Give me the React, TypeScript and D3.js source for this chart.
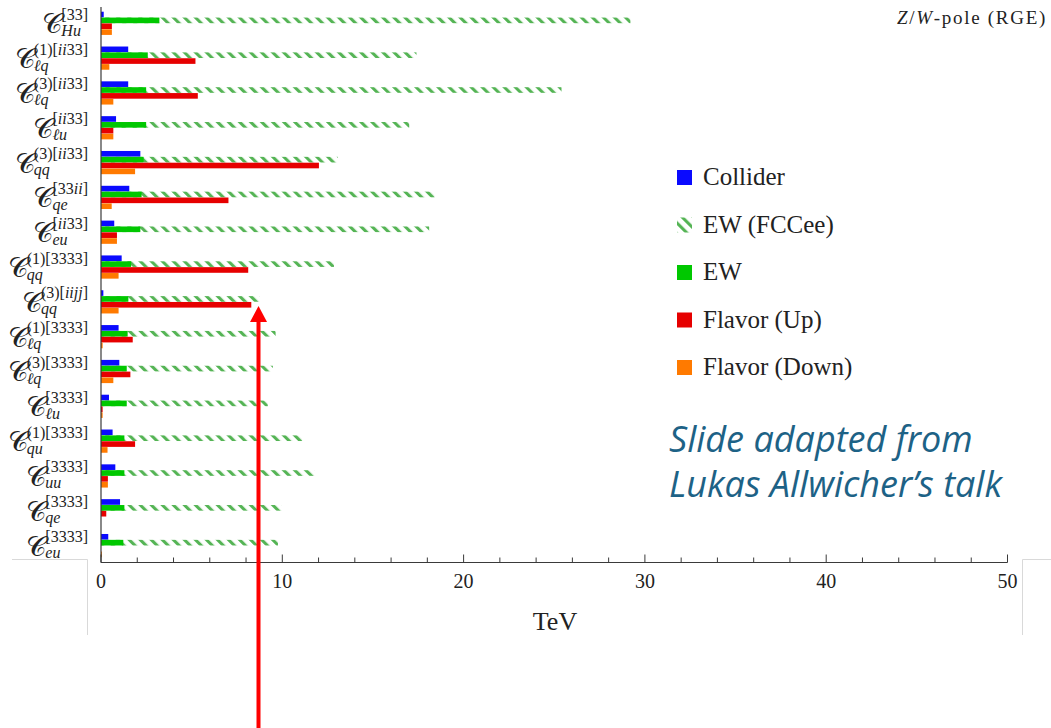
import React, { useEffect, useRef } from "react";
import * as d3 from "d3";

const W = 1051;
const H = 728;

// Wilson coefficient labels: superscript and subscript parts of C
const superscripts = [
  "[33]", "(1)[ii33]", "(3)[ii33]", "[ii33]", "(3)[ii33]", "[33ii]", "[ii33]", "(1)[3333]",
  "(3)[iijj]", "(1)[3333]", "(3)[3333]", "[3333]", "(1)[3333]", "[3333]", "[3333]", "[3333]",
];
const subscripts = [
  "Hu", "ℓq", "ℓq", "ℓu", "qq", "qe", "eu", "qq",
  "qq", "ℓq", "ℓq", "ℓu", "qu", "uu", "qe", "eu",
];

// Bounds in TeV for each coefficient
const collider = [0.15, 1.5, 1.5, 0.83, 2.17, 1.56, 0.73, 1.14, 0.13, 0.97, 1.01, 0.44, 0.64, 0.79, 1.05, 0.4];
const ewFCCee = [29.2, 17.4, 25.4, 17.0, 13.07, 18.4, 18.1, 12.85, 8.75, 9.63, 9.48, 9.2, 11.1, 11.78, 9.98, 9.76];
const ew = [3.22, 2.58, 2.49, 2.49, 2.35, 2.24, 2.17, 1.66, 1.51, 1.47, 1.42, 1.42, 1.29, 1.29, 1.29, 1.23];
const flavorUp = [0.6, 5.21, 5.34, 0.68, 12.02, 7.03, 0.88, 8.12, 8.29, 1.75, 1.62, 0.09, 1.88, 0.38, 0.29, 0];
const flavorDown = [0.6, 0.46, 0.68, 0.68, 1.88, 0.59, 0.88, 0.97, 0.97, 0.09, 0.68, 0.09, 0.36, 0.38, 0, 0.05];

const legendNames = ["Collider", "EW (FCCee)", "EW", "Flavor (Up)", "Flavor (Down)"];
const xTickValues = [0, 10, 20, 30, 40, 50];

const BLUE = "#0a0aff";
const GREEN = "#00c800";
const HATCH = "#55b455";
const RED = "#e60000";
const ORANGE = "#ff7a00";

const SERIF = "'Liberation Serif', 'DejaVu Serif', serif";

function addMathTspans(text: d3.Selection<SVGTextElement, unknown, null, undefined>, s: string) {
  // letters in math italic, digits and brackets upright
  const parts: { t: string; it: boolean }[] = [];
  for (const ch of s) {
    const it = /[A-Za-zℓ]/.test(ch);
    if (parts.length && parts[parts.length - 1].it === it) parts[parts.length - 1].t += ch;
    else parts.push({ t: ch, it });
  }
  parts.forEach((p) => {
    text.append("tspan").attr("font-style", p.it ? "italic" : "normal").text(p.t);
  });
}

export default function App() {
  const ref = useRef<SVGSVGElement>(null);

  useEffect(() => {
    const svg = d3.select(ref.current!);
    svg.selectAll("*").remove();

    const x = d3.scaleLinear().domain([0, 50]).range([101, 1007.5]);
    const idx = d3.range(superscripts.length);
    const y = d3
      .scaleBand<number>()
      .domain(idx)
      .range([5.9, 563])
      .paddingInner(1 / 3)
      .paddingOuter(1 / 6);
    const sub = d3
      .scaleBand<string>()
      .domain(["collider", "ew", "up", "down"])
      .range([0, y.bandwidth()])
      .paddingInner(0.04);

    const defs = svg.append("defs");
    const pat = defs
      .append("pattern")
      .attr("id", "hatch")
      .attr("patternUnits", "userSpaceOnUse")
      .attr("width", 7.8)
      .attr("height", 7.8)
      .attr("patternTransform", "rotate(-45)");
    pat.append("rect").attr("x", 0).attr("y", 0).attr("width", 3.1).attr("height", 7.8).attr("fill", HATCH);

    // image frame remnants
    const frame = svg.append("g").attr("stroke", "#d9d9d9").attr("fill", "none").attr("stroke-width", 1);
    frame.append("path").attr("d", "M12,559.5H87.5V635");
    frame.append("path").attr("d", "M1051,559.5H1022.5V635");

    // bars
    const bars = svg.append("g");
    idx.forEach((i) => {
      const y0 = y(i)!;
      const g = bars.append("g").attr("transform", `translate(0,${y0})`);
      g.append("rect")
        .attr("x", x(0))
        .attr("y", sub("ew")!)
        .attr("width", x(ewFCCee[i]) - x(0))
        .attr("height", sub.bandwidth())
        .attr("fill", "url(#hatch)");
      const solid: [string, number, string][] = [
        ["collider", collider[i], BLUE],
        ["ew", ew[i], GREEN],
        ["up", flavorUp[i], RED],
        ["down", flavorDown[i], ORANGE],
      ];
      solid.forEach(([k, v, c]) => {
        if (v <= 0) return;
        g.append("rect")
          .attr("x", x(0))
          .attr("y", sub(k)!)
          .attr("width", x(v) - x(0))
          .attr("height", sub.bandwidth())
          .attr("fill", c);
      });
    });

    // axes
    const axisColor = "#3a3a3a";
    svg
      .append("line")
      .attr("x1", x(0))
      .attr("x2", x(0))
      .attr("y1", 7)
      .attr("y2", 562.5)
      .attr("stroke", axisColor)
      .attr("stroke-width", 1.2);
    svg
      .append("line")
      .attr("x1", x(0))
      .attr("x2", x(50))
      .attr("y1", 562.5)
      .attr("y2", 562.5)
      .attr("stroke", axisColor)
      .attr("stroke-width", 1.2);
    const ticks = svg.append("g").attr("stroke", axisColor).attr("stroke-width", 1);
    d3.range(0, 51, 2).forEach((t) => {
      const major = t % 10 === 0;
      ticks
        .append("line")
        .attr("x1", x(t))
        .attr("x2", x(t))
        .attr("y1", 562.5)
        .attr("y2", 562.5 - (major ? 8 : 5));
    });
    svg
      .append("g")
      .selectAll("text")
      .data(xTickValues)
      .join("text")
      .attr("x", (d) => x(d))
      .attr("y", 588)
      .attr("text-anchor", "middle")
      .attr("font-family", SERIF)
      .attr("font-size", 20)
      .attr("fill", "#222")
      .text((d) => String(d));
    svg
      .append("text")
      .attr("x", 555)
      .attr("y", 630)
      .attr("text-anchor", "middle")
      .attr("font-family", SERIF)
      .attr("font-size", 26)
      .attr("fill", "#222")
      .text("TeV");

    // coefficient labels
    const labels = svg.append("g").attr("font-family", SERIF).attr("fill", "#222");
    idx.forEach((i) => {
      const cy = y(i)! + y.bandwidth() / 2;
      const g = labels.append("g");
      const supT = g.append("text").attr("font-size", 16).attr("y", cy - 3.5);
      addMathTspans(supT, superscripts[i]);
      const subT = g.append("text").attr("font-size", 16).attr("y", cy + 12.5);
      addMathTspans(subT, subscripts[i]);
      const wSup = (supT.node() as SVGTextElement).getComputedTextLength();
      const wSub = (subT.node() as SVGTextElement).getComputedTextLength();
      const sx = 88 - Math.max(wSup, wSub);
      supT.attr("x", sx);
      subT.attr("x", sx);
      g.append("text")
        .attr("x", sx + 1)
        .attr("y", cy + 10)
        .attr("text-anchor", "end")
        .attr("font-size", 28)
        .text("𝒞");
    });

    // legend
    const lg = svg.append("g").attr("transform", "translate(677,170)");
    const legFill = [BLUE, "url(#hatch)", GREEN, RED, ORANGE];
    legendNames.forEach((name, k) => {
      const gy = k * 47.5;
      lg.append("rect")
        .attr("x", 0)
        .attr("y", gy)
        .attr("width", 15)
        .attr("height", 15)
        .attr("fill", legFill[k]);
      lg.append("text")
        .attr("x", 26)
        .attr("y", gy + 15)
        .attr("font-family", SERIF)
        .attr("font-size", 25)
        .attr("fill", "#222")
        .text(name);
    });

    // title tag
    const tag = svg
      .append("text")
      .attr("x", 1047)
      .attr("y", 24)
      .attr("text-anchor", "end")
      .attr("font-family", SERIF)
      .attr("font-size", 19)
      .attr("letter-spacing", 1.7)
      .attr("fill", "#222");
    tag.append("tspan").attr("font-style", "italic").text("Z");
    tag.append("tspan").text("/");
    tag.append("tspan").attr("font-style", "italic").text("W");
    tag.append("tspan").text("-pole (RGE)");

    // credit note
    const note = svg
      .append("g")
      .attr("font-family", "'Open Sans', 'Noto Sans', sans-serif")
      .attr("font-style", "italic")
      .attr("font-size", 36)
      .attr("fill", "#1d6286");
    note.append("text").attr("x", 669).attr("y", 452).text("Slide adapted from");
    note.append("text").attr("x", 669).attr("y", 497).text("Lukas Allwicher’s talk");

    // arrow marking the bound
    svg
      .append("line")
      .attr("x1", 258.5)
      .attr("x2", 258.5)
      .attr("y1", 728)
      .attr("y2", 318)
      .attr("stroke", "#ff0000")
      .attr("stroke-width", 4);
    svg
      .append("path")
      .attr("d", "M258.5,306L267,322L250,322Z")
      .attr("fill", "#ff0000");
  }, []);

  return (
    <svg
      ref={ref}
      width={W}
      height={H}
      style={{ position: "absolute", left: 0, top: 0, background: "#fff" }}
    />
  );
}
